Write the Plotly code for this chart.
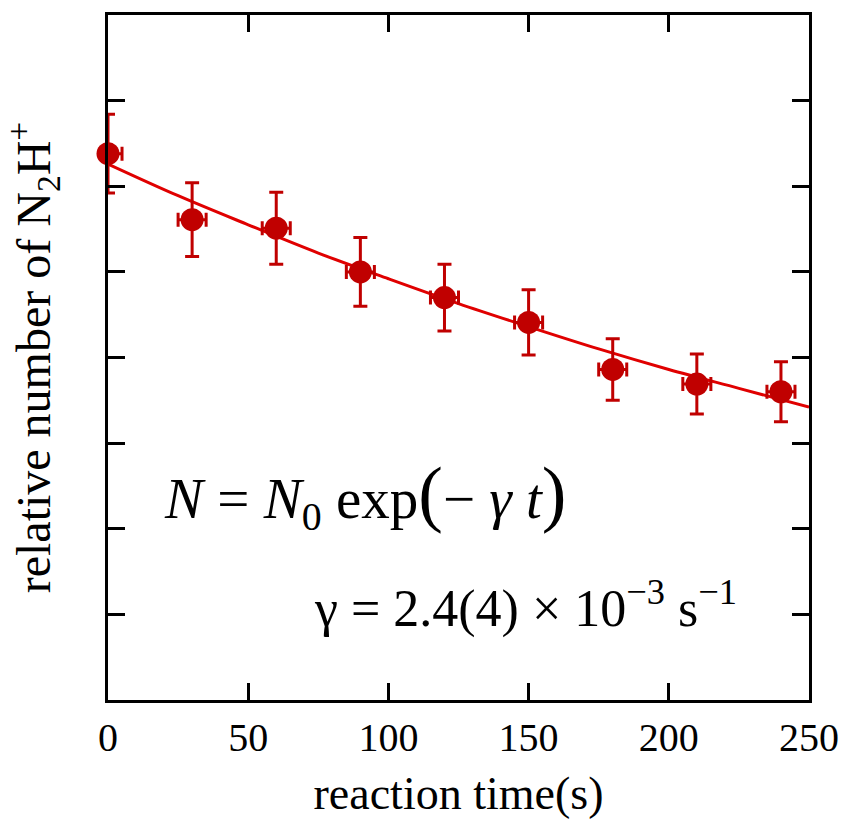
import plotly.graph_objects as go

time_s = [0, 30, 60, 90, 120, 150, 180, 210, 240]
rel_number = [6.38, 5.61, 5.51, 5.00, 4.70, 4.41, 3.86, 3.69, 3.60]
rel_err = [0.46, 0.43, 0.42, 0.40, 0.39, 0.38, 0.36, 0.35, 0.35]
time_err = [5, 5, 5, 5, 5, 5, 5, 5, 5]

# Fitted curve, values
fit_time = [0, 25, 50, 75, 100, 125, 150, 175, 200, 225, 250]
fit_value = [6.26, 5.89, 5.55, 5.22, 4.92, 4.63, 4.36, 4.10, 3.86, 3.64, 3.42]

x_ticks = [0, 50, 100, 150, 200, 250]
y_ticks = [1, 2, 3, 4, 5, 6, 7]

RED = "#C00000"
LINE_RED = "#E00000"
FONT = "'Liberation Serif', 'Times New Roman', Times, serif"

fig = go.Figure()

fig.add_trace(go.Scatter(
    x=fit_time, y=fit_value, mode="lines", line=dict(color=LINE_RED, width=3, shape="spline"),
    showlegend=False, hoverinfo="skip", cliponaxis=True,
))

fig.add_trace(go.Scatter(
    x=time_s, y=rel_number, mode="markers",
    marker=dict(size=1, color=RED, opacity=0),
    error_y=dict(type="data", array=rel_err, color=RED, thickness=3, width=7),
    error_x=dict(type="data", array=time_err, color=RED, thickness=3, width=7),
    showlegend=False, cliponaxis=True,
))

fig.add_trace(go.Scatter(
    x=time_s, y=rel_number, mode="markers",
    marker=dict(size=23, color=RED),
    showlegend=False, cliponaxis=False,
))

fig.add_annotation(
    x=19.3, y=2.39, xref="x", yref="y", xanchor="left", yanchor="middle", showarrow=False,
    text=("<i>N</i> = <i>N</i><sub>0</sub> exp<span style='font-size:74px'>(</span>− <i>γ</i> <i>t</i>"
          "<span style='font-size:74px'>)</span>"),
    font=dict(family=FONT, size=57, color="black"),
)
fig.add_annotation(
    x=72.8, y=1.11, xref="x", yref="y", xanchor="left", yanchor="middle", showarrow=False,
    text="γ = 2.4(4) × 10<sup>−3</sup> s<sup>−1</sup>",
    font=dict(family=FONT, size=52, color="black"),
)

axis_common = dict(
    showline=True, linecolor="black", linewidth=3, mirror="ticks",
    ticks="inside", ticklen=17, tickwidth=3, tickcolor="black",
    showgrid=False, zeroline=False, automargin=False,
)

fig.update_layout(
    width=843, height=819,
    margin=dict(l=108, r=34, t=15, b=119),
    plot_bgcolor="white", paper_bgcolor="white",
    font=dict(family=FONT, color="black"),
    xaxis=dict(
        range=[0, 250], tickvals=x_ticks, ticktext=[str(v) for v in x_ticks],
        tickfont=dict(family=FONT, size=40), ticklabelstandoff=0,
        title=dict(text="reaction time(s)", font=dict(family=FONT, size=46), standoff=34),
        **axis_common,
    ),
    yaxis=dict(
        range=[0, 8], tickvals=y_ticks, showticklabels=False,
        title=dict(text="relative number of N<sub>2</sub>H<sup>+</sup>", font=dict(family=FONT, size=48), standoff=44),
        **axis_common,
    ),
)

fig.write_html("out.html", config={"displayModeBar": False},
               post_script="document.body.style.margin='0';document.body.style.padding='0';")
